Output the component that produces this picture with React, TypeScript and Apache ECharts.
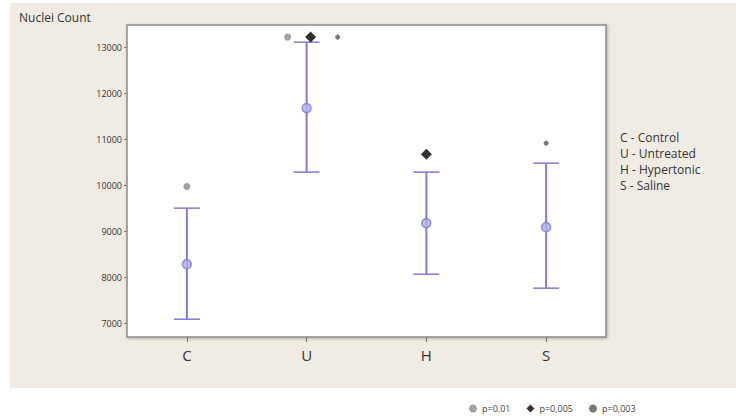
import React, { useEffect, useRef } from "react";
import * as echarts from "echarts";

const categories = ["C", "U", "H", "S"];
const means = [8283, 11674, 9174, 9087];
const lower = [7087, 10283, 8065, 7761];
const upper = [9500, 13108, 10283, 10478];
const yTicks = [7000, 8000, 9000, 10000, 11000, 12000, 13000];
// significance markers: [category, value]
const sigP01: [string, number][] = [["C", 9970], ["U", 13217]];
const sigP005: [string, number][] = [["U", 13217], ["H", 10674]];
const sigP003: [string, number][] = [["U", 13217], ["S", 10913]];
const legendNames = ["p=0.01", "p=0,005", "p=0,003"];
const groupNotes = ["C - Control", "U - Untreated", "H - Hypertonic", "S - Saline"];

const FONT = "'Open Sans', 'DejaVu Sans', sans-serif";
const BAR = "#7f7bd2";

export default function App() {
  const ref = useRef<HTMLDivElement>(null);
  useEffect(() => {
    if (!ref.current) return;
    const chart = echarts.init(ref.current, null, { renderer: "svg" });
    const offU: Record<string, number> = { p01: -19, p005: 4, p003: 31 };
    const mk = (arr: [string, number][], key: string) =>
      arr.map(([c, v]) => ({ value: [c, v], symbolOffset: [c === "U" ? offU[key] : 0, 0] }));
    chart.setOption({
      animation: false,
      backgroundColor: "#ffffff",
      textStyle: { fontFamily: FONT },
      grid: {
        left: 127,
        right: 130,
        top: 25,
        bottom: 82,
        show: true,
        backgroundColor: "#ffffff",
        borderColor: "#8c8c8c",
        borderWidth: 1.5,
        shadowColor: "rgba(0,0,0,0.25)",
        shadowBlur: 3,
        shadowOffsetX: 1,
        shadowOffsetY: 1,
      },
      xAxis: {
        type: "category",
        data: categories,
        boundaryGap: true,
        axisLine: { show: false },
        axisTick: { show: true, alignWithLabel: true, length: 5, lineStyle: { color: "#777" } },
        axisLabel: { fontSize: 15, color: "#333", margin: 10, fontFamily: FONT },
        splitLine: { show: false },
      },
      yAxis: {
        type: "value",
        min: 6700,
        max: 13480,
        axisLine: { show: false },
        axisTick: { show: true, length: 3, customValues: yTicks, lineStyle: { color: "#777" } },
        axisLabel: {
          fontSize: 9,
          color: "#333",
          margin: 5,
          customValues: yTicks,
          fontFamily: FONT,
          formatter: (v: number) => String(v),
        },
        splitLine: { show: false },
      },
      legend: {
        left: 464,
        top: 399,
        itemWidth: 8,
        itemHeight: 8,
        itemGap: 16,
        textStyle: { fontSize: 9, color: "#444", fontFamily: FONT },
        data: [
          { name: legendNames[0], icon: "circle", itemStyle: { color: "#8a8a8a" } },
          { name: legendNames[1], icon: "diamond", itemStyle: { color: "#000" } },
          { name: legendNames[2], icon: "circle", itemStyle: { color: "#555" } },
        ],
      },
      graphic: [
        {
          type: "rect",
          z: -10,
          silent: true,
          shape: { x: 10, y: 3, width: 726, height: 385 },
          style: { fill: "#f0ebe3" },
        },
        {
          type: "text",
          x: 19,
          y: 11,
          style: { text: "Nuclei Count", fontSize: 12, fill: "#333", fontFamily: FONT },
        },
        ...groupNotes.map((t, i) => ({
          type: "text",
          x: 620,
          y: 131 + i * 16,
          style: { text: t, fontSize: 12, fill: "#333", fontFamily: FONT },
        })),
      ],
      series: [
        {
          type: "custom",
          name: "ci",
          data: categories.map((c, i) => [i, lower[i], upper[i]]),
          renderItem: (params: any, api: any) => {
            const i = api.value(0);
            const lo = api.coord([i, api.value(1)]);
            const hi = api.coord([i, api.value(2)]);
            const hw = 13;
            return {
              type: "group",
              children: [
                { type: "line", shape: { x1: lo[0], y1: lo[1], x2: hi[0], y2: hi[1] }, style: { stroke: BAR, lineWidth: 2 } },
                { type: "line", shape: { x1: lo[0] - hw, y1: lo[1], x2: lo[0] + hw, y2: lo[1] }, style: { stroke: BAR, lineWidth: 1.5 } },
                { type: "line", shape: { x1: hi[0] - hw, y1: hi[1], x2: hi[0] + hw, y2: hi[1] }, style: { stroke: BAR, lineWidth: 1.5 } },
              ],
            };
          },
          z: 2,
        },
        {
          type: "scatter",
          name: "mean",
          data: categories.map((c, i) => [c, means[i]]),
          symbol: "circle",
          symbolSize: 9,
          itemStyle: { color: "#b3b0ee", borderColor: BAR, borderWidth: 1.5 },
          z: 3,
        },
        {
          type: "scatter",
          name: legendNames[0],
          data: mk(sigP01, "p01"),
          symbol: "circle",
          symbolSize: 7,
          itemStyle: { color: "#8a8a8a" },
          z: 4,
        },
        {
          type: "scatter",
          name: legendNames[1],
          data: mk(sigP005, "p005"),
          symbol: "diamond",
          symbolSize: 11,
          itemStyle: { color: "#000" },
          z: 4,
        },
        {
          type: "scatter",
          name: legendNames[2],
          data: mk(sigP003, "p003"),
          symbol: "circle",
          symbolSize: 5,
          itemStyle: { color: "#555" },
          z: 4,
        },
      ],
    });
    return () => chart.dispose();
  }, []);
  return (
    <div
      ref={ref}
      style={{ position: "fixed", left: 0, top: 0, width: 736, height: 419 }}
    />
  );
}
